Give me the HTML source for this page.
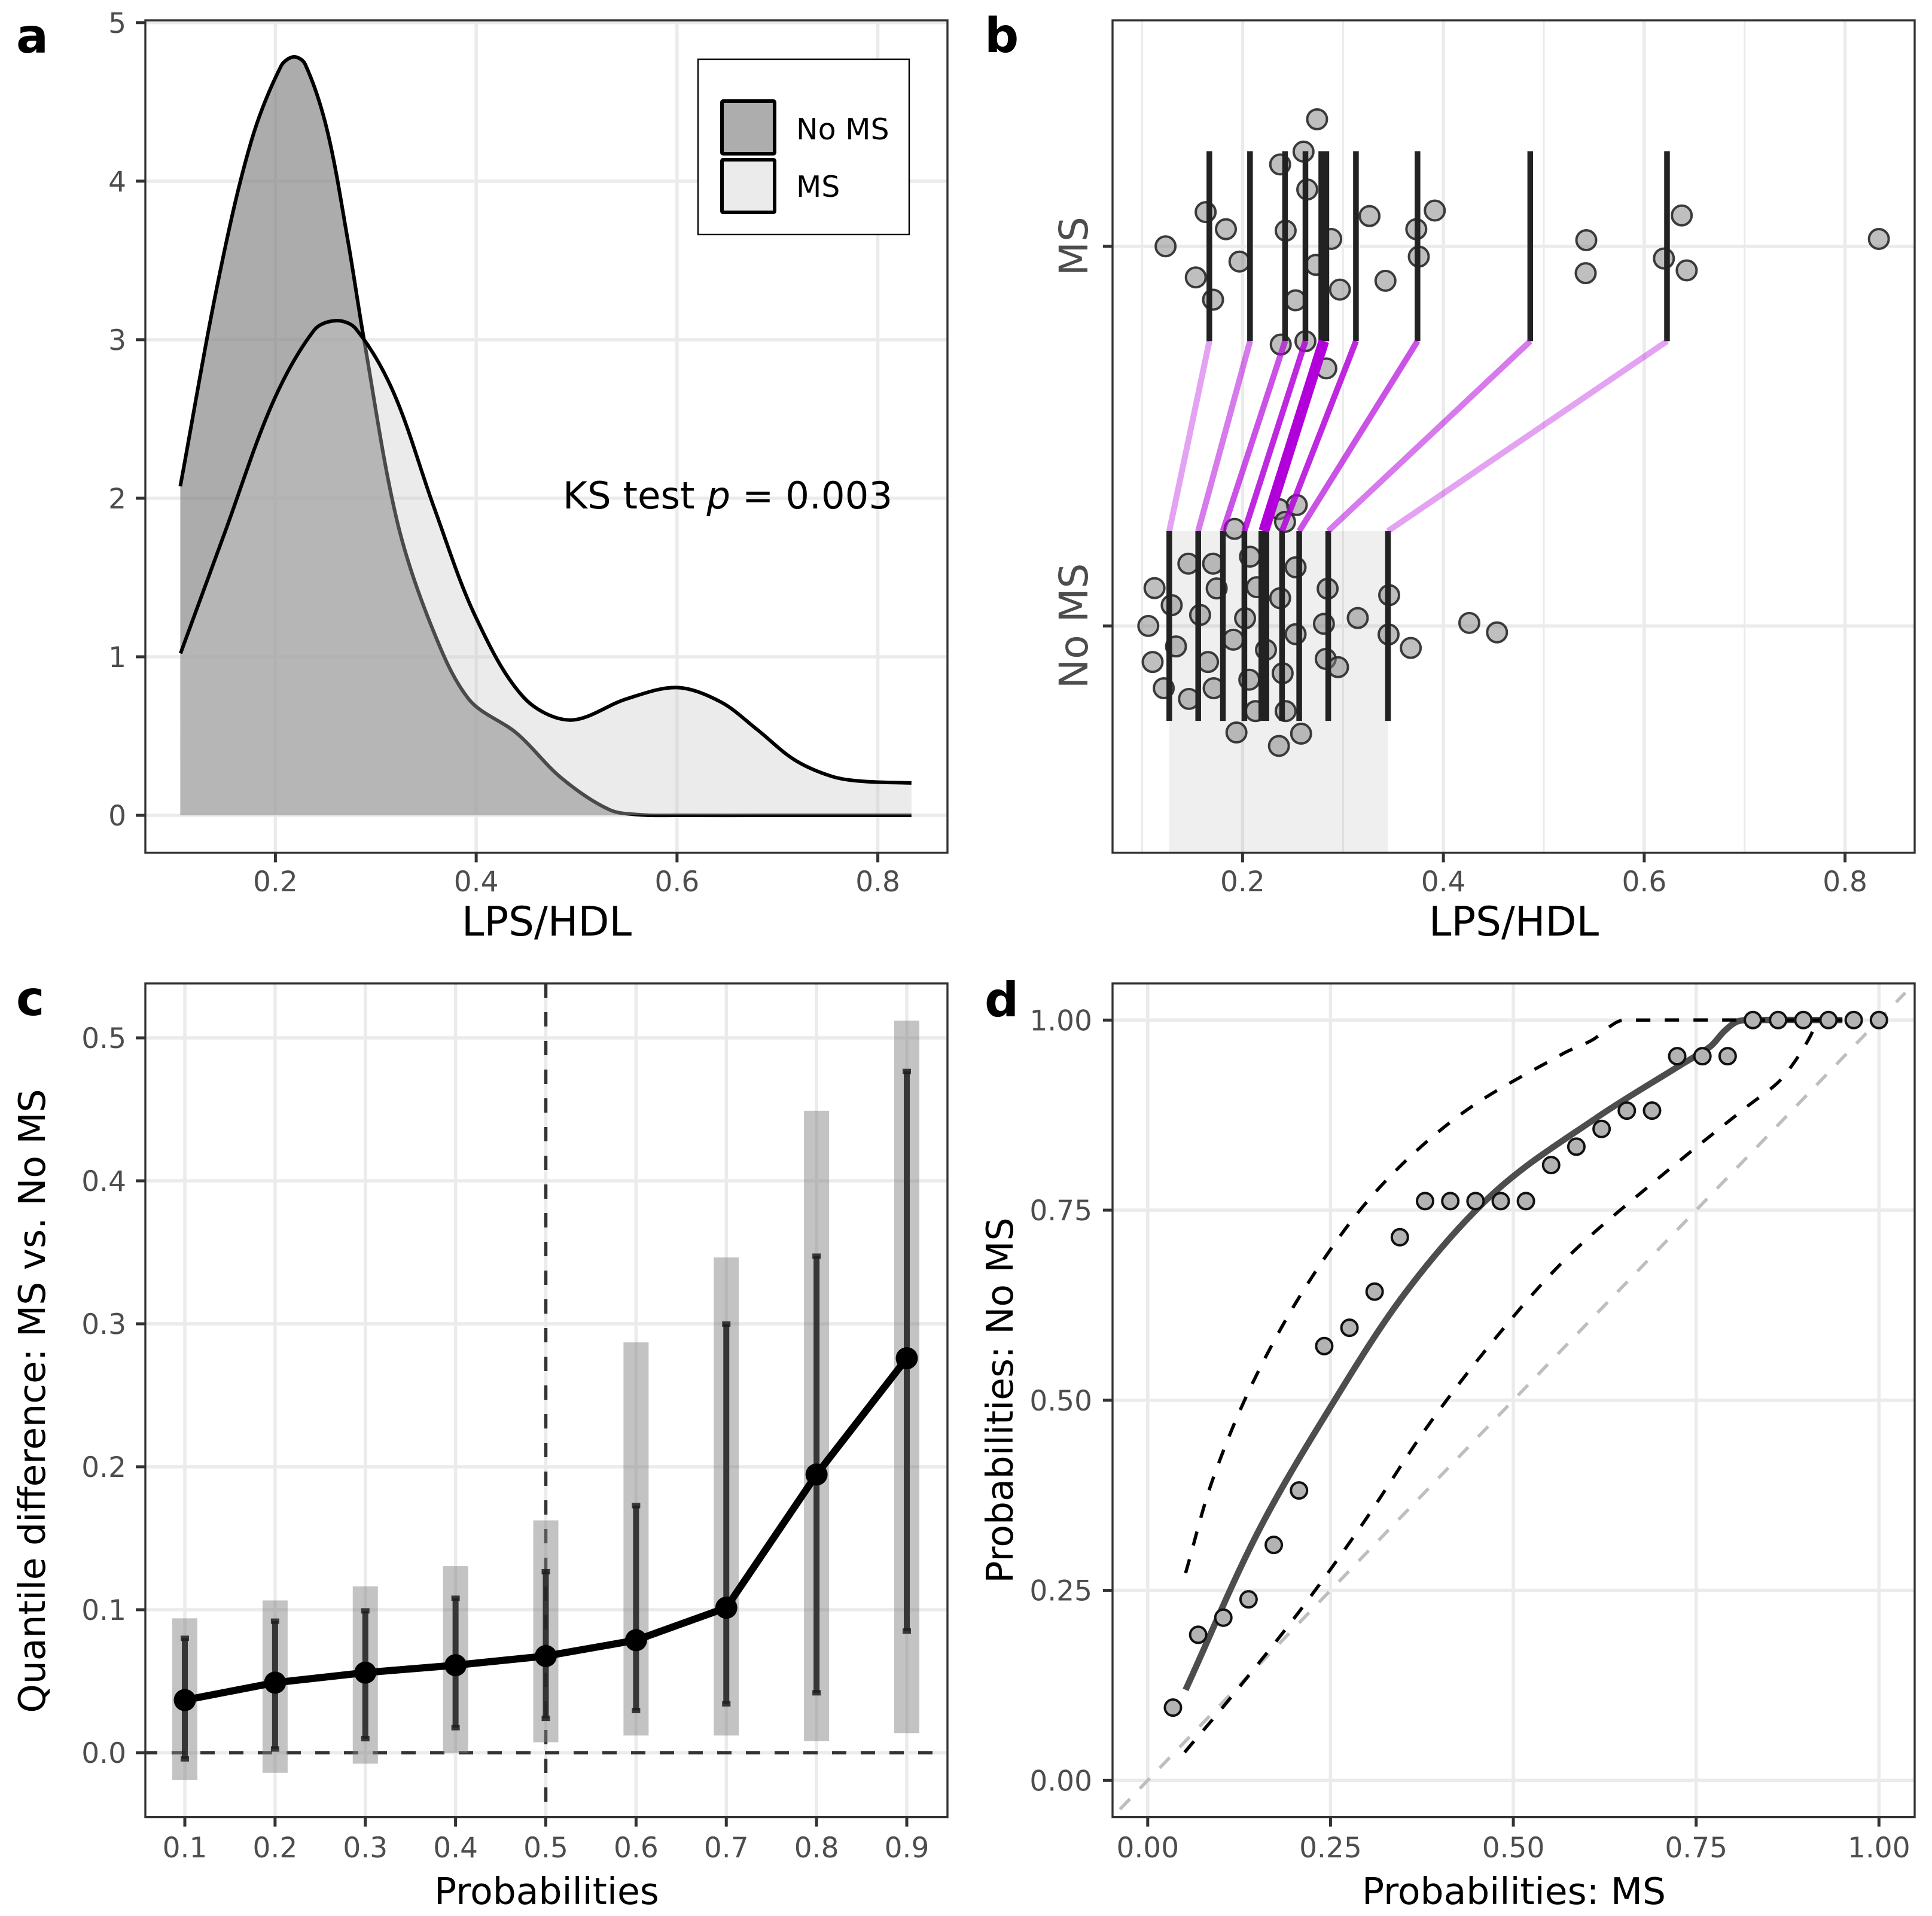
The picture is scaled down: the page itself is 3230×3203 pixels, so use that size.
<!DOCTYPE html>
<html lang="en">
<head>
<meta charset="utf-8">
<title>LPS/HDL distribution comparison</title>
<style>
html,body{margin:0;padding:0;background:#fff;}
#figure{display:block;width:3230px;height:3203px;font-family:"DejaVu Sans","Liberation Sans",sans-serif;}
</style>
</head>
<body>
<svg id="figure" xmlns="http://www.w3.org/2000/svg" width="3230" height="3203" viewBox="0 0 3230 3203"></svg>
<script>
// ---------- Panel a data ----------
const aNoMsX = [.1053,.1438,.1759,.2057,.2182,.2295,.2514,.2723,.2883,.3207,.355,.3926,.4405,.4849,.5328,.565,.6,.7,.8335];
const aNoMsY = [2.075,3.395,4.25,4.727,4.784,4.74,4.325,3.621,3.0,1.87,1.2,.733,.517,.235,.035,.003,0,0,0];
const aMsX = [.1055,.1497,.1977,.2387,.2599,.2797,.3174,.3584,.3993,.4473,.4934,.55,.6,.6436,.68,.717,.754,.784,.8335];
const aMsY = [1.021,1.785,2.607,3.061,3.12,3.072,2.671,1.935,1.253,.744,.601,.735,.806,.715,.54,.35,.246,.215,.204];
const aXTicks = [0.2,0.4,0.6,0.8];
const aYTicks = [0,1,2,3,4,5];
const aXLabels = ['0.2','0.4','0.6','0.8'];
const aYLabels = ['0','1','2','3','4','5'];

// ---------- Panel b data ----------
const bMsQuantiles = [.1669,.2074,.2423,.2626,.2809,.3129,.3742,.4865,.6227];
const bNoMsQuantiles = [.127,.1558,.1804,.2018,.2212,.2393,.2564,.2853,.3448];
const bMsValues = [.2742,.2607,.2374,.2644,.1632,.1834,.1233,.2429,.2883,.3264,.3914,.373,.3755,.1969,.1534,.1706,.273,.2528,.2969,.3423,.5423,.5417,.6374,.6196,.6423,.8337,.238,.2626,.2834];
const bMsJitter = [.3345,.2492,.2155,.1495,.09,.045,0,.041,.0193,.0796,.0941,.045,-.0273,-.0402,-.082,-.1407,-.049,-.1423,-.1142,-.0909,.0161,-.0708,.0812,-.0322,-.0635,.0193,-.2589,-.25,-.3216];
const bNoMsValues = [.254,.2362,.2423,.192,.2074,.146,.1706,.2528,.1123,.1742,.2141,.2847,.2374,.346,.1294,.1577,.2025,.3147,.1061,.281,.4258,.4534,.2528,.3454,.1908,.1337,.3675,.2233,.1104,.1656,.2828,.2951,.2399,.2067,.1712,.1215,.1466,.2129,.2429,.1939,.2583,.2362];
const bNoMsJitter = [.3184,.3079,.2742,.2557,.1825,.164,.164,.1544,.0997,.0989,.1021,.0981,.0732,.0812,.0547,.0289,.0201,.0209,0,.0056,.008,-.0169,-.0217,-.0225,-.0362,-.0539,-.0579,-.0627,-.0949,-.0949,-.0868,-.1085,-.1246,-.1415,-.164,-.164,-.1922,-.2243,-.2243,-.2806,-.2838,-.316];
const bXMajor = [0.2,0.4,0.6,0.8];
const bXMinor = [0.1,0.3,0.5,0.7];
const bXLabels = ['0.2','0.4','0.6','0.8'];

// ---------- Panel c data ----------
const cProbs = [.1,.2,.3,.4,.5,.6,.7,.8,.9];
const cProbLabels = ['0.1','0.2','0.3','0.4','0.5','0.6','0.7','0.8','0.9'];
const cDiff = [.0368,.049,.056,.0612,.0676,.0787,.1014,.1946,.2759];
const cInnerLow = [-.0043,.0026,.0098,.0175,.024,.0295,.0342,.0419,.0851];
const cInnerHigh = [.08,.092,.0992,.108,.1266,.1728,.2998,.3473,.4765];
const cOuterLow = [-.0192,-.0141,-.0077,0,.0073,.012,.012,.0081,.0137];
const cOuterHigh = [.094,.1065,.1163,.1305,.1625,.287,.3464,.449,.512];
const cYTicks = [0,.1,.2,.3,.4,.5];
const cYLabels = ['0.0','0.1','0.2','0.3','0.4','0.5'];

// ---------- Panel d data ----------
const dPointX = [.0345,.069,.1034,.1379,.1724,.2069,.2414,.2759,.3103,.3448,.3793,.4138,.4483,.4828,.5172,.5517,.5862,.6207,.6552,.6897,.7241,.7586,.7931,.8276,.8621,.8966,.931,.9655,1];
const dPointY = [.0957,.1915,.214,.2381,.3097,.3813,.5712,.5953,.6428,.7144,.7619,.7619,.7619,.7619,.7619,.8093,.8335,.8568,.8809,.8809,.9525,.9525,.9525,1,1,1,1,1,1];
const dFitX = [.0518,.1493,.2469,.3559,.4764,.6141,.7289,.769,.7891,.8063,.8264,.95];
const dFitY = [.1191,.3238,.4863,.6459,.7753,.8717,.941,.965,.986,.998,1,1];
const dUpperX = [.0518,.089,.1464,.2239,.3157,.4305,.5682,.6084,.6313,.6457,.6658,.95];
const dUpperY = [.2726,.396,.5285,.661,.7784,.8777,.956,.974,.991,.999,1,1];
const dLowerX = [.0505,.112,.2067,.2928,.3846,.4764,.5739,.7002,.8207,.8609,.8838,.9068,.9141];
const dLowerY = [.037,.107,.2214,.3358,.4683,.5827,.688,.7934,.887,.917,.9439,.98,1];
const dDiagonal = [-.038,1.036];
const dTicks = [0,.25,.5,.75,1];
const dLabels = ['0.00','0.25','0.50','0.75','1.00'];

// ---------- Helpers ----------
const NS = 'http://www.w3.org/2000/svg';
const root = document.getElementById('figure');
function mk(tag, attrs, parent) {
  const el = document.createElementNS(NS, tag);
  for (const k in attrs) el.setAttribute(k, attrs[k]);
  (parent || root).appendChild(el);
  return el;
}
function txt(str, attrs, parent) {
  const el = mk('text', attrs, parent);
  el.textContent = str;
  return el;
}
function scale(d0, d1, p0, p1) {
  return v => p0 + (v - d0) * (p1 - p0) / (d1 - d0);
}
// Non-uniform (chord-length) Hermite spline through the data points
function smooth(xs, ys, sx, sy) {
  const P = xs.map((x, i) => [sx(x), sy(ys[i])]);
  const n = P.length;
  const dist = (a, b) => Math.hypot(a[0] - b[0], a[1] - b[1]) || 1e-6;
  const T = P.map((p, i) => {
    if (i === 0) { const d = dist(P[1], P[0]); return [(P[1][0] - P[0][0]) / d, (P[1][1] - P[0][1]) / d]; }
    if (i === n - 1) { const d = dist(P[n - 1], P[n - 2]); return [(P[n - 1][0] - P[n - 2][0]) / d, (P[n - 1][1] - P[n - 2][1]) / d]; }
    const d = dist(P[i + 1], P[i]) + dist(P[i], P[i - 1]);
    return [(P[i + 1][0] - P[i - 1][0]) / d, (P[i + 1][1] - P[i - 1][1]) / d];
  });
  let d = 'M' + P[0][0].toFixed(1) + ' ' + P[0][1].toFixed(1);
  for (let i = 0; i < n - 1; i++) {
    const h = dist(P[i + 1], P[i]) / 3;
    d += 'C' + (P[i][0] + T[i][0] * h).toFixed(1) + ' ' + (P[i][1] + T[i][1] * h).toFixed(1) + ' ' +
      (P[i + 1][0] - T[i + 1][0] * h).toFixed(1) + ' ' + (P[i + 1][1] - T[i + 1][1] * h).toFixed(1) + ' ' +
      P[i + 1][0].toFixed(1) + ' ' + P[i + 1][1].toFixed(1);
  }
  return d;
}
const GRID = '#ebebeb', INK = '#333333', TICKTXT = '#4d4d4d';

function gridX(g, vals, sx, box, width) {
  vals.forEach(v => {
    const el = mk('line', {x1: sx(v), x2: sx(v), y1: box.t, y2: box.b, stroke: GRID, 'stroke-width': width}, g);
    
    
  });
}
function gridY(g, vals, sy, box, width) {
  vals.forEach(v => {
    const el = mk('line', {x1: box.l, x2: box.r, y1: sy(v), y2: sy(v), stroke: GRID, 'stroke-width': width}, g);
    
    
  });
}
function xAxis(g, vals, labels, sx, box, baseline) {
  vals.forEach((v, i) => {
    const t = mk('line', {x1: sx(v), x2: sx(v), y1: box.b, y2: box.b + 16, stroke: INK, 'stroke-width': 5}, g);
    
    
    const l = txt(labels[i], {x: sx(v), y: baseline, 'font-size': 47, fill: TICKTXT, 'text-anchor': 'middle'}, g);
    
    
  });
}
function yAxis(g, vals, labels, sy, box, rightEdge) {
  vals.forEach((v, i) => {
    const t = mk('line', {x1: box.l - 16, x2: box.l, y1: sy(v), y2: sy(v), stroke: INK, 'stroke-width': 5}, g);
    
    
    const l = txt(labels[i], {x: rightEdge, y: sy(v) + 17, 'font-size': 47, fill: TICKTXT, 'text-anchor': 'end'}, g);
    
    
  });
}
function frame(g, box) {
  const el = mk('rect', {x: box.l, y: box.t, width: box.r - box.l, height: box.b - box.t, fill: 'none', stroke: INK, 'stroke-width': 3.4}, g);
  
  
}

// ========== Panel a ==========
(function () {
  const box = {l: 243, r: 1584, t: 34, b: 1425.5};
  const sx = scale(0.2, 0.8, 460.4, 1467.6), sy = scale(0, 5, 1363, 37.8);
  const g = mk('g', {});
  
  
  const tag = txt('a', {x: 27, y: 88, 'font-size': 80, 'font-weight': 700, fill: '#000'}, g);
  
  
  gridX(g, aXTicks, sx, box, 5.5);
  gridY(g, aYTicks, sy, box, 5.5);

  const noLine = smooth(aNoMsX, aNoMsY, sx, sy);
  const noFill = mk('path', {d: noLine + 'L' + sx(aNoMsX[aNoMsX.length - 1]) + ' ' + sy(0) + 'L' + sx(aNoMsX[0]) + ' ' + sy(0) + 'Z', fill: 'rgba(128,128,128,.65)'}, g);
  
  
  const noCurve = mk('path', {d: noLine, fill: 'none', stroke: '#000', 'stroke-width': 6}, g);
  
  

  const msLine = smooth(aMsX, aMsY, sx, sy);
  const msFill = mk('path', {d: msLine + 'L' + sx(aMsX[aMsX.length - 1]) + ' ' + sy(0) + 'L' + sx(aMsX[0]) + ' ' + sy(0) + 'Z', fill: 'rgba(200,200,200,.37)'}, g);
  
  
  const msCurve = mk('path', {d: msLine, fill: 'none', stroke: '#000', 'stroke-width': 6}, g);
  
  

  const ks = mk('text', {x: 941, y: 850, 'font-size': 62.5, fill: '#000'}, g);
  
  
  ks.appendChild(document.createTextNode('KS test '));
  const ital = mk('tspan', {'font-style': 'italic'}, ks);
  ital.textContent = 'p';
  ks.appendChild(document.createTextNode(' = 0.003'));

  const legend = mk('g', {}, g);
  
  
  const lb = mk('rect', {x: 1167, y: 99, width: 353, height: 293, fill: '#fff', stroke: '#000', 'stroke-width': 2.4}, legend);
  
  
  const k1 = mk('rect', {x: 1207, y: 169, width: 88, height: 88, rx: 2, fill: '#adadad', stroke: '#000', 'stroke-width': 6}, legend);
  
  
  const k2 = mk('rect', {x: 1207, y: 267, width: 88, height: 88, rx: 2, fill: '#ebebeb', stroke: '#000', 'stroke-width': 6}, legend);
  
  
  const t1 = txt('No MS', {x: 1331, y: 233, 'font-size': 49, fill: '#000'}, legend);
  
  
  const t2 = txt('MS', {x: 1331, y: 329, 'font-size': 49, fill: '#000'}, legend);
  
  

  xAxis(g, aXTicks, aXLabels, sx, box, 1490);
  yAxis(g, aYTicks, aYLabels, sy, box, 211);
  frame(g, box);
  const xt = txt('LPS/HDL', {x: 914, y: 1564, 'font-size': 67.5, fill: '#000', 'text-anchor': 'middle'}, g);
  
  
})();

// ========== Panel b ==========
(function () {
  const box = {l: 1860, r: 3201, t: 34, b: 1425.5};
  const sx = scale(0.2, 0.8, 2077.4, 3084.6), sy = scale(1, 2, 1046.4, 411.7);
  const g = mk('g', {});
  
  
  const tag = txt('b', {x: 1646, y: 87, 'font-size': 80, 'font-weight': 700, fill: '#000'}, g);
  
  
  gridX(g, bXMinor, sx, box, 3);
  gridX(g, bXMajor, sx, box, 5.5);
  gridY(g, [1, 2], sy, box, 5.5);

  const nq = bNoMsQuantiles.length;
  const band = mk('rect', {x: sx(bNoMsQuantiles[0]), y: sy(1.25), width: sx(bNoMsQuantiles[nq - 1]) - sx(bNoMsQuantiles[0]), height: box.b - sy(1.25), fill: 'rgba(128,128,128,.13)'}, g);
  
  

  bMsValues.forEach((v, i) => {
    const c = mk('circle', {cx: sx(v), cy: sy(2 + bMsJitter[i]), r: 16.5, fill: 'rgba(128,128,128,.5)', stroke: 'rgba(40,40,40,.9)', 'stroke-width': 4}, g);
    
    
  });
  bNoMsValues.forEach((v, i) => {
    const c = mk('circle', {cx: sx(v), cy: sy(1 + bNoMsJitter[i]), r: 16.5, fill: 'rgba(128,128,128,.5)', stroke: 'rgba(40,40,40,.9)', 'stroke-width': 4}, g);
    
    
  });
  bMsQuantiles.forEach((q, i) => {
    const w = i === 4 ? 18 : 9.5;
    const d = mk('line', {x1: sx(q), x2: sx(q), y1: sy(2.25), y2: sy(1.75), stroke: '#222', 'stroke-width': w}, g);
    
    
  });
  bNoMsQuantiles.forEach((q, i) => {
    const w = i === 4 ? 18 : 9.5;
    const d = mk('line', {x1: sx(q), x2: sx(q), y1: sy(1.25), y2: sy(.75), stroke: '#222', 'stroke-width': w}, g);
    
    
  });
  bMsQuantiles.forEach((q, i) => {
    const o = 1 - Math.abs(i - 4) * 0.16;
    const w = i === 4 ? 18 : 10;
    const s = mk('line', {x1: sx(q), y1: sy(1.75), x2: sx(bNoMsQuantiles[i]), y2: sy(1.25), stroke: '#b200da', 'stroke-opacity': o, 'stroke-width': w}, g);
    
    
  });

  xAxis(g, bXMajor, bXLabels, sx, box, 1490);
  [[2, 'MS'], [1, 'No MS']].forEach(pair => {
    const t = mk('line', {x1: box.l - 16, x2: box.l, y1: sy(pair[0]), y2: sy(pair[0]), stroke: INK, 'stroke-width': 5}, g);
    
    
    const l = txt(pair[1], {transform: 'translate(1818 ' + sy(pair[0]) + ') rotate(-90)', 'font-size': 66, fill: TICKTXT, 'text-anchor': 'middle'}, g);
    
    
  });
  frame(g, box);
  const xt = txt('LPS/HDL', {x: 2531, y: 1564, 'font-size': 67.5, fill: '#000', 'text-anchor': 'middle'}, g);
  
  
})();

// ========== Panel c ==========
(function () {
  const box = {l: 243, r: 1584, t: 1644, b: 3037.6};
  const sx = scale(.1, .9, 309, 1516), sy = scale(0, .5, 2930, 1735);
  const g = mk('g', {});
  
  
  const tag = txt('c', {x: 27, y: 1697, 'font-size': 80, 'font-weight': 700, fill: '#000'}, g);
  
  
  gridX(g, cProbs, sx, box, 5.5);
  gridY(g, cYTicks, sy, box, 5.5);

  const h0 = mk('line', {x1: box.l, x2: box.r, y1: sy(0), y2: sy(0), stroke: INK, 'stroke-width': 5.5, 'stroke-dasharray': '24 24', 'stroke-dashoffset': 4}, g);
  
  
  const v5 = mk('line', {x1: sx(.5), x2: sx(.5), y1: box.t, y2: box.b, stroke: INK, 'stroke-width': 5.5, 'stroke-dasharray': '24 24'}, g);
  
  

  cProbs.forEach((p, i) => {
    const r = mk('rect', {x: sx(p) - 21, y: sy(cOuterHigh[i]), width: 42, height: sy(cOuterLow[i]) - sy(cOuterHigh[i]), fill: 'rgba(128,128,128,.47)'}, g);
    
    
  });
  cProbs.forEach((p, i) => {
    const s = mk('line', {x1: sx(p), x2: sx(p), y1: sy(cInnerHigh[i]), y2: sy(cInnerLow[i]), stroke: 'rgba(30,30,30,.85)', 'stroke-width': 10}, g);
    
    
    const c1 = mk('line', {x1: sx(p) - 7, x2: sx(p) + 7, y1: sy(cInnerHigh[i]), y2: sy(cInnerHigh[i]), stroke: 'rgba(30,30,30,.85)', 'stroke-width': 9}, g);
    
    
    const c2 = mk('line', {x1: sx(p) - 7, x2: sx(p) + 7, y1: sy(cInnerLow[i]), y2: sy(cInnerLow[i]), stroke: 'rgba(30,30,30,.85)', 'stroke-width': 9}, g);
    
    
  });
  const line = mk('polyline', {points: cProbs.map((p, i) => sx(p) + ',' + sy(cDiff[i])).join(' '), fill: 'none', stroke: '#000', 'stroke-width': 12}, g);
  
  
  cProbs.forEach((p, i) => {
    const c = mk('circle', {cx: sx(p), cy: sy(cDiff[i]), r: 18.5, fill: '#000'}, g);
    
    
  });

  xAxis(g, cProbs, cProbLabels, sx, box, 3105);
  yAxis(g, cYTicks, cYLabels, sy, box, 211);
  frame(g, box);
  const xt = txt('Probabilities', {x: 914, y: 3183, 'font-size': 61.5, fill: '#000', 'text-anchor': 'middle'}, g);
  
  
  const yt = txt('Quantile difference: MS vs. No MS', {transform: 'translate(75 2342) rotate(-90)', 'font-size': 61.5, fill: '#000', 'text-anchor': 'middle'}, g);
  
  
})();

// ========== Panel d ==========
(function () {
  const box = {l: 1860, r: 3201, t: 1644, b: 3037.6};
  const sx = scale(0, 1, 1918.8, 3141.3), sy = scale(0, 1, 2976.3, 1705.3);
  const g = mk('g', {});
  
  
  const tag = txt('d', {x: 1646, y: 1699, 'font-size': 80, 'font-weight': 700, fill: '#000'}, g);
  
  
  gridX(g, dTicks, sx, box, 5.5);
  gridY(g, dTicks, sy, box, 5.5);

  const diag = mk('line', {x1: sx(dDiagonal[0]), y1: sy(dDiagonal[0]), x2: sx(dDiagonal[1]), y2: sy(dDiagonal[1]), stroke: '#bebebe', 'stroke-width': 5.5, 'stroke-dasharray': '24 24'}, g);
  
  

  const fit = mk('path', {d: smooth(dFitX, dFitY, sx, sy), fill: 'none', stroke: '#4d4d4d', 'stroke-width': 10.5}, g);
  
  
  const up = mk('path', {d: smooth(dUpperX, dUpperY, sx, sy), fill: 'none', stroke: '#000', 'stroke-width': 5.5, 'stroke-dasharray': '24 24'}, g);
  
  
  const lo = mk('path', {d: smooth(dLowerX, dLowerY, sx, sy), fill: 'none', stroke: '#000', 'stroke-width': 5.5, 'stroke-dasharray': '24 24'}, g);
  
  

  dPointX.forEach((x, i) => {
    const c = mk('circle', {cx: sx(x), cy: sy(dPointY[i]), r: 13.5, fill: '#b3b3b3', stroke: '#111', 'stroke-width': 4}, g);
    
    
  });

  xAxis(g, dTicks, dLabels, sx, box, 3105);
  yAxis(g, dTicks, dLabels, sy, box, 1826);
  frame(g, box);
  const xt = txt('Probabilities: MS', {x: 2531, y: 3183, 'font-size': 61.5, fill: '#000', 'text-anchor': 'middle'}, g);
  
  
  const yt = txt('Probabilities: No MS', {transform: 'translate(1693 2341) rotate(-90)', 'font-size': 61.5, fill: '#000', 'text-anchor': 'middle'}, g);
  
  
})();
</script>
</body>
</html>
